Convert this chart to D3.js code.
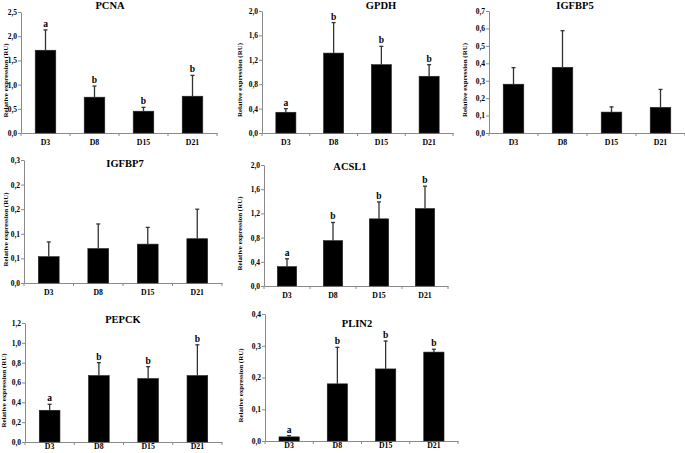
<!DOCTYPE html>
<html>
<head>
<meta charset="utf-8">
<script src="https://cdn.jsdelivr.net/npm/d3@7"></script>
<style>
  html, body { margin: 0; padding: 0; background: #fff; }
  svg { display: block; color: #000; }
  text { font-family: "Liberation Serif", "DejaVu Serif", serif; font-weight: bold; fill: #000; }
</style>
</head>
<body>
<svg id="chart" width="685" height="453"></svg>
<script>
// ---------- DATA ----------
const categories = ["D3", "D8", "D15", "D21"];
const genes = ["PCNA", "GPDH", "IGFBP5", "IGFBP7", "ACSL1", "PEPCK", "PLIN2"];
const yAxisTitle = "Relative expression (RU)";

const pcnaMean   = [1.71, 0.74, 0.45, 0.76];
const pcnaSD     = [0.42, 0.23, 0.08, 0.43];
const pcnaLetters = ["a", "b", "b", "b"];

const gpdhMean   = [0.34, 1.31, 1.12, 0.93];
const gpdhSD     = [0.06, 0.50, 0.30, 0.19];
const gpdhLetters = ["a", "b", "b", "b"];

const igfbp5Mean = [0.28, 0.377, 0.12, 0.147];
const igfbp5SD   = [0.095, 0.21, 0.03, 0.103];
const igfbp5Letters = ["", "", "", ""];

const igfbp7Mean = [0.0535, 0.07, 0.079, 0.09];
const igfbp7SD   = [0.030, 0.050, 0.034, 0.060];
const igfbp7Letters = ["", "", "", ""];

const acsl1Mean  = [0.32, 0.75, 1.11, 1.28];
const acsl1SD    = [0.13, 0.30, 0.28, 0.37];
const acsl1Letters = ["a", "b", "b", "b"];

const pepckMean  = [0.32, 0.67, 0.64, 0.67];
const pepckSD    = [0.06, 0.13, 0.12, 0.31];
const pepckLetters = ["a", "b", "b", "b"];

const plin2Mean  = [0.013, 0.18, 0.227, 0.28];
const plin2SD    = [0.004, 0.115, 0.088, 0.009];
const plin2Letters = ["a", "b", "b", "b"];

// tick values and their printed labels
const pcnaTicks = [0, 0.5, 1.0, 1.5, 2.0, 2.5];
const pcnaTickLabels = ["0,0", "0,5", "1,0", "1,5", "2,0", "2,5"];
const gpdhTicks = [0, 0.4, 0.8, 1.2, 1.6, 2.0];
const gpdhTickLabels = ["0,0", "0,4", "0,8", "1,2", "1,6", "2,0"];
const igfbp5Ticks = [0, 0.1, 0.2, 0.3, 0.4, 0.5, 0.6, 0.7];
const igfbp5TickLabels = ["0,0", "0,1", "0,2", "0,3", "0,4", "0,5", "0,6", "0,7"];
const igfbp7Ticks = [0, 0.05, 0.10, 0.15, 0.20, 0.25];
const igfbp7TickLabels = ["0,0", "0,1", "0,1", "0,2", "0,2", "0,3"];
const acsl1Ticks = [0, 0.4, 0.8, 1.2, 1.6, 2.0];
const acsl1TickLabels = ["0,0", "0,4", "0,8", "1,2", "1,6", "2,0"];
const pepckTicks = [0, 0.2, 0.4, 0.6, 0.8, 1.0, 1.2];
const pepckTickLabels = ["0,0", "0,2", "0,4", "0,6", "0,8", "1,0", "1,2"];
const plin2Ticks = [0, 0.1, 0.2, 0.3, 0.4];
const plin2TickLabels = ["0,0", "0,1", "0,2", "0,3", "0,4"];

// ---------- LAYOUT ----------
const panels = [
  { name: genes[0], mean: pcnaMean, sd: pcnaSD, letters: pcnaLetters, ticks: pcnaTicks, labels: pcnaTickLabels,
    box: { x0: 21, x1: 217, yTop: 12, yBot: 133 }, title: { x: 110, y: 9 }, ylabOff: 15, xPad: 6 },
  { name: genes[1], mean: gpdhMean, sd: gpdhSD, letters: gpdhLetters, ticks: gpdhTicks, labels: gpdhTickLabels,
    box: { x0: 262, x1: 453, yTop: 11, yBot: 133 }, title: { x: 381, y: 9 }, ylabOff: 22, xPad: 6 },
  { name: genes[2], mean: igfbp5Mean, sd: igfbp5SD, letters: igfbp5Letters, ticks: igfbp5Ticks, labels: igfbp5TickLabels,
    box: { x0: 489, x1: 685, yTop: 11, yBot: 133 }, title: { x: 575, y: 9 }, ylabOff: 24, xPad: 6 },
  { name: genes[3], mean: igfbp7Mean, sd: igfbp7SD, letters: igfbp7Letters, ticks: igfbp7Ticks, labels: igfbp7TickLabels,
    box: { x0: 24, x1: 222, yTop: 160, yBot: 283 }, title: { x: 125, y: 167 }, ylabOff: 18, xPad: 6 },
  { name: genes[4], mean: acsl1Mean, sd: acsl1SD, letters: acsl1Letters, ticks: acsl1Ticks, labels: acsl1TickLabels,
    box: { x0: 264, x1: 448, yTop: 165, yBot: 286 }, title: { x: 350, y: 170 }, ylabOff: 24, xPad: 6 },
  { name: genes[5], mean: pepckMean, sd: pepckSD, letters: pepckLetters, ticks: pepckTicks, labels: pepckTickLabels,
    box: { x0: 25, x1: 222, yTop: 323, yBot: 442 }, title: { x: 123, y: 323 }, ylabOff: 21, xPad: 1.5 },
  { name: genes[6], mean: plin2Mean, sd: plin2SD, letters: plin2Letters, ticks: plin2Ticks, labels: plin2TickLabels,
    box: { x0: 265, x1: 458, yTop: 314, yBot: 441 }, title: { x: 357, y: 327 }, ylabOff: 24, xPad: 1.5 }
];

const svg = d3.select("#chart");
const axisColor = "#8a8a8a";

panels.forEach(p => {
  const b = p.box;
  const g = svg.append("g");
  const yMax = p.ticks[p.ticks.length - 1];

  const x = d3.scaleBand().domain(categories).range([b.x0, b.x1])
    .paddingInner(0.58).paddingOuter(0.29);
  const y = d3.scaleLinear().domain([0, yMax]).range([b.yBot, b.yTop]);

  // y axis
  const yAxis = d3.axisLeft(y).tickValues(p.ticks)
    .tickFormat((d, i) => p.labels[i]).tickSize(3).tickSizeOuter(0);
  const ya = g.append("g").attr("transform", `translate(${b.x0},0)`).call(yAxis);
  ya.select(".domain").attr("stroke", axisColor);
  ya.selectAll(".tick line").attr("stroke", axisColor);
  ya.selectAll(".tick text").attr("font-size", 7.5).attr("x", -4).attr("fill", "#000")
    .style("font-family", '"Liberation Serif", serif').style("font-weight", "bold");

  // x axis (labels from band scale, ticks on category boundaries)
  const xAxis = d3.axisBottom(x).tickSize(0).tickSizeOuter(0).tickPadding(p.xPad);
  const xa = g.append("g").attr("transform", `translate(0,${b.yBot})`).call(xAxis);
  xa.select(".domain").attr("stroke", axisColor);
  xa.selectAll(".tick text").attr("font-size", 7.8).attr("fill", "#000")
    .style("font-family", '"Liberation Serif", serif').style("font-weight", "bold");
  const step = x.step();
  const bounds = d3.range(categories.length + 1).map(i => x(categories[0]) - step * x.paddingInner() / 2 + i * step);
  g.selectAll(".bt").data(bounds).join("line")
    .attr("x1", d => d).attr("x2", d => d)
    .attr("y1", b.yBot).attr("y2", b.yBot + 3)
    .attr("stroke", axisColor);

  const rows = categories.map((c, i) => ({ c, m: p.mean[i], s: p.sd[i], l: p.letters[i] }));

  // bars
  g.selectAll(".bar").data(rows).join("rect")
    .attr("x", d => x(d.c)).attr("width", x.bandwidth())
    .attr("y", d => y(d.m)).attr("height", d => y(0) - y(d.m))
    .attr("fill", "#000").attr("stroke", "#222").attr("stroke-width", 0.6);

  // error bars (upper)
  g.selectAll(".err").data(rows).join("line")
    .attr("x1", d => x(d.c) + x.bandwidth() / 2).attr("x2", d => x(d.c) + x.bandwidth() / 2)
    .attr("y1", d => y(d.m)).attr("y2", d => y(d.m + d.s))
    .attr("stroke", "#333").attr("stroke-width", 1.3);
  g.selectAll(".cap").data(rows).join("line")
    .attr("x1", d => x(d.c) + x.bandwidth() / 2 - 2).attr("x2", d => x(d.c) + x.bandwidth() / 2 + 2)
    .attr("y1", d => y(d.m + d.s)).attr("y2", d => y(d.m + d.s))
    .attr("stroke", "#333").attr("stroke-width", 1.3);

  // significance letters
  g.selectAll(".let").data(rows.filter(d => d.l)).join("text")
    .attr("x", d => x(d.c) + x.bandwidth() / 2).attr("y", d => y(d.m + d.s) - 3)
    .attr("text-anchor", "middle").attr("font-size", 9.5).text(d => d.l);

  // title
  g.append("text").attr("x", p.title.x).attr("y", p.title.y)
    .attr("text-anchor", "middle").attr("font-size", 10.5).text(p.name);

  // y-axis title
  const cy = (b.yTop + b.yBot) / 2 + 8;
  g.append("text")
    .attr("transform", `translate(${b.x0 - p.ylabOff},${cy}) rotate(-90)`)
    .attr("text-anchor", "middle").attr("dy", "0.35em")
    .attr("font-size", 7).text(yAxisTitle);
});
</script>
</body>
</html>
